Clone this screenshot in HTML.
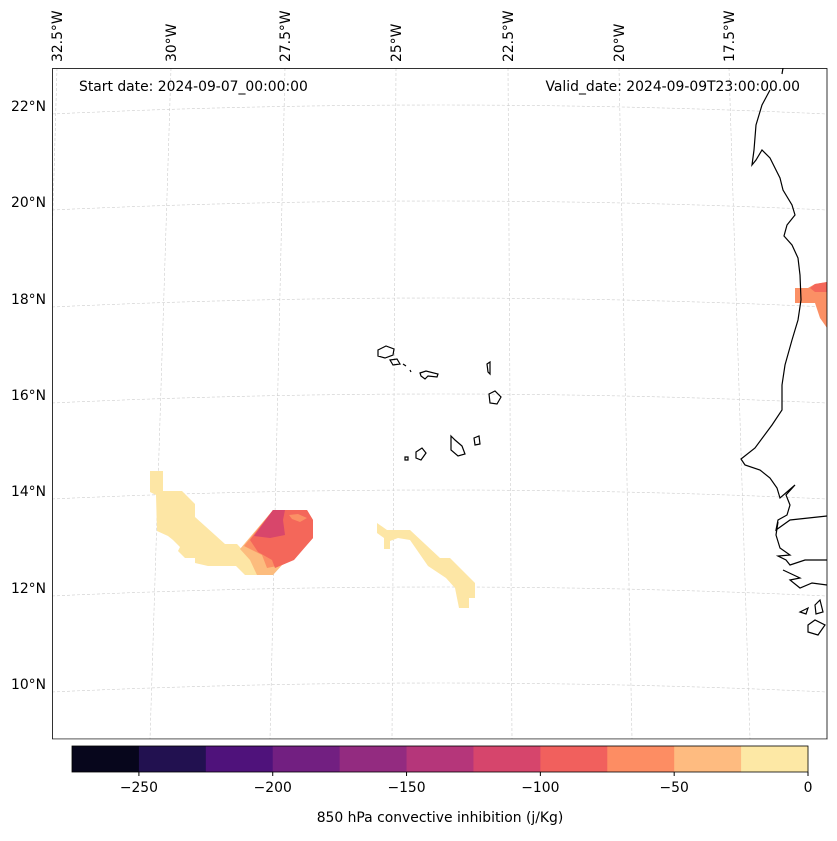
<!DOCTYPE html>
<html><head><meta charset="utf-8"><style>
body{margin:0;background:#fff;width:837px;height:836px;overflow:hidden;font-family:"Liberation Sans","DejaVu Sans",sans-serif}
svg text{font-family:"DejaVu Sans","Liberation Sans",sans-serif}
</style></head><body>
<svg id="chart" width="837" height="836" viewBox="0 0 837 836" xmlns="http://www.w3.org/2000/svg">
<defs><clipPath id="mc"><rect x="52" y="68" width="775" height="671"/></clipPath></defs>
<g id="grid" stroke="#ccc" stroke-width="0.6" stroke-dasharray="3,2" fill="none" clip-path="url(#mc)"></g>
<g clip-path="url(#mc)">
<path d="M150,471 L163,471 L163,491 L182,491 L195,504 L195,517 L225,544 L237,544 L252,560 L257,574 L257,575 L245,575 L236,566 L208,566 L195,563 L195,558 L185,558 L178,551 L180,547 L173,540 L168,536 L157,531 L156,495 L150,492Z" fill="#fde6a5"/>
<path d="M240,549 L273,510 L307,510 L307,538 L283,564 L273,575 L257,575 L250,560Z" fill="#fcbc7e"/>
<path d="M244,546 L273,510 L307,510 L313,520 L313,538 L293,560 L282,565 L267,568 L262,555Z" fill="#fb9065"/>
<path d="M250,540 L273,510 L307,510 L313,520 L313,538 L294,560 L275,568 L272,560 L258,552Z" fill="#f4675a"/>
<path d="M254,536 L273,510 L285,510 L283,520 L285,535 L270,538Z" fill="#d8466b"/>
<path d="M289,515 L298,514 L307,518 L300,522 L292,519Z" fill="#fb9065"/>
<path d="M377,523 L387,530 L410,530 L440,558 L450,558 L475,583 L475,598 L469,598 L469,608 L459,608 L455,588 L446,578 L428,566 L410,540 L398,538 L390,541 L390,549 L384,549 L384,538 L377,533Z" fill="#fde6a5"/>
<path d="M795,288 L808,288 L815,284 L827,282 L827,328 L820,318 L815,303 L795,303Z" fill="#fb9065"/>
<path d="M810,288 L815,284 L827,282 L827,292 L815,292Z" fill="#f4675a"/>
</g>
<g fill="none" stroke="#000" stroke-width="1.2" clip-path="url(#mc)">
<path d="M783,68 L782,74 M770,90 L762,105 L756,125 L754,150 L752,165 L756,160 L762,150 L770,158 L776,170 L780,178 L783,190 L792,205 L795,215 L787,225 L784,236 L792,245 L798,258 L800,275 L801,300 L798,320 L792,340 L785,365 L782,385 L782,410 L772,425 L755,448 L741,459 L745,465 L760,470 L770,478 L777,488 L780,498 L795,485 L786,495 L790,505 L787,515 L778,520 L776,530 L790,520 L827,516 M778,522 L776,535 L780,548 L790,555 L778,556 L786,560 L790,565 L805,560 L827,560 M783,570 L800,578 L790,580 L800,588 L812,583 L827,585"/>
<path d="M800,612 L808,608 L806,614 Z M808,625 L815,620 L825,625 L818,635 L808,632Z M815,605 L820,600 L823,612 L816,614Z"/>
<path d="M378,350 L386,346 L394,349 L393,355 L385,358 L378,356Z M390,360 L397,359 L400,364 L393,365Z M403,364 L406,366 M410,370 L411,372 M420,373 L426,371 L438,374 L437,377 L428,376 L425,379 L421,376Z M487,364 L490,362 L490,374 L488,372Z M489,394 L495,391 L501,397 L497,404 L490,403Z M451,436 L455,440 L462,446 L465,454 L458,456 L451,450Z M474,438 L479,436 L480,444 L475,445Z M416,452 L422,448 L426,453 L421,460 L416,458Z M405,457 L408,457 L408,460 L405,460Z"/>
</g>
<rect x="52.5" y="68.5" width="774.5" height="670.5" fill="none" stroke="#000" stroke-width="0.8"/>
<line x1="52" y1="739.5" x2="827" y2="739.5" stroke="#bbb" stroke-width="1"/>
<text x="79" y="91" font-size="13.9">Start date: 2024-09-07_00:00:00</text>
<text x="800" y="91" font-size="13.9" text-anchor="end">Valid_date: 2024-09-09T23:00:00.00</text>
<g id="latlabels" font-size="13.9" text-anchor="end"></g>
<g id="lonlabels" font-size="13.9"></g>
<g id="cbar"></g>
<text x="440" y="822" font-size="13.9" text-anchor="middle">850 hPa convective inhibition (j/Kg)</text>
</svg>
<script>
const latTicks=["22°N","20°N","18°N","16°N","14°N","12°N","10°N"];
const latY=[106,202,299,395,491,588,684];
const lonTicks=["32.5°W","30°W","27.5°W","25°W","22.5°W","20°W","17.5°W"];
const lonTop=[57,171,285,396,508,619,729];
const lonBot=[38,150,270,392,512,632,750];
const cbLevels=[-275,-250,-225,-200,-175,-150,-125,-100,-75,-50,-25,0];
const cbColors=["#07061c","#221150","#4f127b","#721f81","#932b80","#b5367a","#d6456c","#f1605d","#fd8d63","#febb80","#fde8a5"];
const cbTicks=[-250,-200,-150,-100,-50,0];
const NS="http://www.w3.org/2000/svg";
function mk(t,a,p){const e=document.createElementNS(NS,t);for(const k in a)e.setAttribute(k,a[k]);p.appendChild(e);return e;}
const grid=document.getElementById('grid');
latY.forEach((y,i)=>{const p=mk('path',{d:`M52,${y+8} Q440,${y-10} 827,${y+8}`},grid);

});
lonTop.forEach((x,i)=>{const p=mk('line',{x1:x,y1:68,x2:lonBot[i],y2:739},grid);

});
const ll=document.getElementById('latlabels');
latTicks.forEach((t,i)=>{const e=mk('text',{x:46,y:latY[i]+5},ll);e.textContent=t;

});
const lo=document.getElementById('lonlabels');
lonTicks.forEach((t,i)=>{const x=lonTop[i]+5;const e=mk('text',{x:x,y:62,transform:`rotate(-90 ${x} 62)`},lo);e.textContent=t;

});
const cb=document.getElementById('cbar');
const X0=72,X1=808,Y0=746,Y1=772;
const sx=v=>X0+(v-cbLevels[0])/(cbLevels[cbLevels.length-1]-cbLevels[0])*(X1-X0);
cbColors.forEach((c,i)=>{const r=mk('rect',{x:sx(cbLevels[i]),y:Y0,width:sx(cbLevels[i+1])-sx(cbLevels[i])+0.5,height:Y1-Y0,fill:c},cb);

});
mk('rect',{x:X0,y:Y0,width:X1-X0,height:Y1-Y0,fill:'none',stroke:'#000','stroke-width':0.8},cb);
cbTicks.forEach(v=>{const x=sx(v);mk('line',{x1:x,y1:Y1,x2:x,y2:Y1+4,stroke:'#000'},cb);
const t=mk('text',{x:x,y:Y1+20,'font-size':13.9,'text-anchor':'middle'},cb);t.textContent=v<0?'\u2212'+(-v):String(v);

});
</script>
</body></html>
